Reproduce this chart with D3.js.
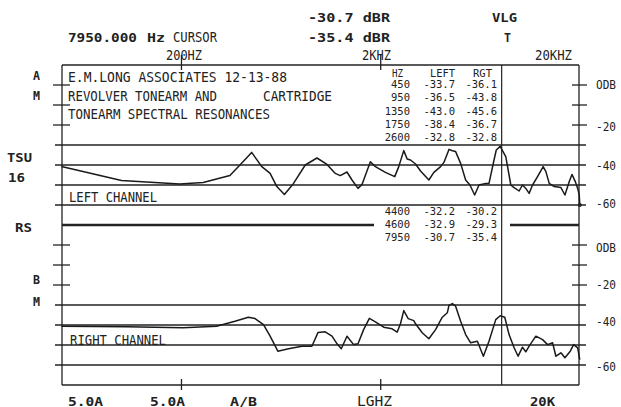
<!DOCTYPE html>
<html><head><meta charset="utf-8">
<script src="https://cdn.jsdelivr.net/npm/d3@7"></script>
<style>
html,body{margin:0;padding:0;background:#fff;}
svg{display:block;}
</style></head>
<body><svg id="c" width="621" height="407"></svg>
<script>
// ---------- data ----------
const leftFreq = [50,100,196,257,350,393,450,506,557,602,657,730,836,957,1075,1183,1253,1354,1435,1538,1611,1774,1880,2111,2352,2463,2610,2715,2821,2990,3168,3488,3695,3994,4150,4400,4574,4752,5035,5335,5607,5921,6225,6727,6988,7405,7600,7950,8482,8812,8989,9340,9896,10290,10693,11111,11559,12244,13070,13487,14011,14847,16045,16805,17666,18228,18937,19470,19830,19950];
const leftDb = [-40.8,-47.8,-49.5,-48.7,-45.3,-40,-33.7,-40.8,-44.2,-50.8,-54.7,-49.2,-40,-36.5,-39.7,-44.2,-45.3,-43.5,-47.5,-51.7,-49.7,-38.4,-40.8,-43.7,-45.8,-40.8,-32.8,-37,-37.5,-39.5,-43,-47.5,-43.7,-40.8,-38.7,-32.2,-32.9,-33.3,-39.2,-47.5,-50,-55,-50,-49.2,-49.2,-37.5,-32.5,-30.7,-35.8,-45,-50,-51.3,-53,-50,-51.7,-54.2,-50,-45.8,-40.8,-43.3,-49.2,-50.8,-51.3,-55,-48.3,-44.7,-48.3,-51.7,-55,-60];
const rightFreq = [50,106,204,300,371,433,468,516,557,609,689,804,903,968,1053,1139,1207,1268,1354,1462,1538,1641,1754,1880,2070,2281,2418,2512,2610,2747,2930,2990,3230,3488,3769,4073,4316,4400,4574,4752,5035,5335,5654,6110,6548,6988,7553,7950,8385,8812,9340,9782,10290,10693,11111,12008,12980,13750,14570,15139,16045,16805,17873,18590,19470,19950];
const rightDb = [-40.6,-40.9,-41.4,-40.6,-38.1,-36.1,-36.8,-39.8,-45.6,-53.1,-51.9,-50.6,-50.6,-43.8,-43.4,-45.6,-49.4,-51.9,-45.6,-49.8,-49.4,-42.3,-36.7,-38.4,-41.1,-41.9,-43.6,-39.4,-32.8,-36.8,-37.8,-39.4,-43.9,-46.9,-42.3,-36.1,-33.9,-30.2,-29.3,-30.6,-38.1,-44.8,-48.9,-48.1,-55.6,-48.1,-37.3,-35.4,-36.1,-44.8,-51.4,-55.6,-51.1,-53.4,-50.6,-45.6,-47.3,-49.8,-48.9,-55.6,-53.9,-56.4,-53.1,-49.8,-51.4,-57.3];

const tableHz   = ["450","950","1350","1750","2600","4400","4600","7950"];
const tableLeft = ["-33.7","-36.5","-43.0","-38.4","-32.8","-32.2","-32.9","-30.7"];
const tableRgt  = ["-36.1","-43.8","-45.6","-36.7","-32.8","-30.2","-29.3","-35.4"];

const freqTicks = [200, 2000];
const topFreqLabels = ["200HZ","2KHZ","20KHZ"];
const dbTickLabels = ["ODB","-20","-40","-60"];
const dbTickValues = [0,-20,-40,-60];
const cursorFreq = 7950;

// ---------- scales ----------
const svg = d3.select("#c");
const ink = "#222";
const x  = d3.scaleLog().domain([50,20000]).range([61.5,580]);
const yU = d3.scaleLinear().domain([0,-60]).range([85,205]);
const yL = d3.scaleLinear().domain([0,-60]).range([245,365]);
const FL = 62, FR = 579;

function txt(str, px, py, o={}) {
  const t = svg.append("text").attr("x",px).attr("y",py).text(str)
    .attr("font-family", o.ff || "'DejaVu Sans Mono', monospace")
    .attr("font-size", o.fs || 12.5)
    .attr("font-weight", o.fw || "normal")
    .attr("fill", o.fill || ink);
  if (o.w) t.attr("textLength", o.w).attr("lengthAdjust","spacingAndGlyphs");
  if (o.anchor) t.attr("text-anchor", o.anchor);
  return t;
}
function hline(y, x1, x2, w) {
  svg.append("line").attr("x1",x1).attr("x2",x2).attr("y1",y).attr("y2",y)
    .attr("stroke",ink).attr("stroke-width",w||1.3);
}
function vline(xx, y1, y2, w) {
  svg.append("line").attr("x1",xx).attr("x2",xx).attr("y1",y1).attr("y2",y2)
    .attr("stroke",ink).attr("stroke-width",w||1.3);
}

// ---------- frame & grid ----------
vline(FL, yU(10), yL(-70));
vline(FR, yU(10), yL(-70));
hline(yU(10), FL, FR);
hline(yL(-70), FL, FR);

[yU, yL].forEach(sc => {
  [0,-10,-20].forEach(d => { hline(sc(d), 53, 70); hline(sc(d), 572, 587); });
  [-30,-40,-50,-60].forEach(d => hline(sc(d), 55, 586));
});
// thick separator line (broken by the readout table)
hline(yL(10), FL, 374, 2.6);
hline(yL(10), 510, FR, 2.6);

// frequency ticks top & bottom
freqTicks.forEach(f => { vline(x(f), 55, 70); vline(x(f), 379, 390); });
// cursor
vline(x(cursorFreq)+1.5, yU(10), yL(-70), 1.2);

// ---------- traces ----------
const lineU = d3.line().x(d => x(d[0])).y(d => yU(d[1]));
const lineL = d3.line().x(d => x(d[0])).y(d => yL(d[1]));
svg.append("path").datum(d3.zip(leftFreq,leftDb)).attr("d",lineU)
  .attr("fill","none").attr("stroke","#1a1a1a").attr("stroke-width",1.5).attr("stroke-linejoin","round");
svg.append("path").datum(d3.zip(rightFreq,rightDb)).attr("d",lineL)
  .attr("fill","none").attr("stroke","#1a1a1a").attr("stroke-width",1.5).attr("stroke-linejoin","round");
svg.append("circle").attr("cx", x(leftFreq[leftFreq.length-1])).attr("cy", yU(leftDb[leftDb.length-1])).attr("r",2).attr("fill",ink);

// ---------- header text ----------
const vga = {fw:"bold", fs:13};
txt("7950.000", 68, 42, {...vga, w:69});
txt("Hz", 147, 42, {...vga, w:18});
txt("CURSOR", 173, 42, {fs:13.5, w:44});
txt("-30.7 dBR", 308, 22, {...vga, w:82});
txt("-35.4 dBR", 308, 42, {...vga, w:82});
txt("VLG", 492, 22, {...vga, w:25});
txt("T", 504, 42, {...vga, w:7});
txt(topFreqLabels[0], 166, 60, {fs:13.5, w:36});
txt(topFreqLabels[1], 362, 60, {fs:13.5, w:29});
txt(topFreqLabels[2], 535, 60, {fs:13.5, w:37});

// left side labels
txt("A", 33, 80, {...vga, w:7});
txt("M", 33, 100, {...vga, w:7});
txt("TSU", 7, 162, {...vga, w:25});
txt("16", 8, 182, {...vga, w:17});
txt("RS", 15, 232, {...vga, w:17});
txt("B", 33, 284, {...vga, w:7});
txt("M", 33, 306, {...vga, w:7});

// box text
txt("E.M.LONG ASSOCIATES  12-13-88", 68, 82, {fs:13.5, w:219});
txt("REVOLVER TONEARM AND", 68, 101, {fs:13.5, w:149});
txt("CARTRIDGE", 263, 101, {fs:13.5, w:69});
txt("TONEARM SPECTRAL RESONANCES", 68, 119, {fs:13.5, w:202});
txt("LEFT CHANNEL", 69, 202, {fs:13.5, w:88});
txt("RIGHT CHANNEL", 70, 345, {fs:13.5, w:96});

// right dB labels
const upOff = [4,6,5,3], loOff = [7,4,1,6];
dbTickLabels.forEach((s,i) => {
  txt(s, 596, yU(dbTickValues[i]) + upOff[i], {fs:12.8, w:20});
  txt(s, 596, yL(dbTickValues[i]) + loOff[i], {fs:12.8, w:20});
});

// readout table
const ts = {fs:10.5};
txt("HZ", 392, 77, {...ts, w:11});
txt("LEFT", 430, 77, {...ts, w:25});
txt("RGT", 473, 77, {...ts, w:19});
tableHz.forEach((h,i) => {
  const yy = i < 5 ? 88.3 + i*13.1 : 215 + (i-5)*13;
  txt(h, 410, yy, {...ts, anchor:"end"});
  txt(tableLeft[i], 455, yy, {...ts, anchor:"end"});
  txt(tableRgt[i], 497, yy, {...ts, anchor:"end"});
});

// bottom labels
txt("5.0A", 68, 405.5, {...vga, w:35});
txt("5.0A", 150, 405.5, {...vga, w:35});
txt("A/B", 230, 405.5, {...vga, w:27});
txt("LGHZ", 357, 405.5, {fs:13.5, w:35});
txt("20K", 530, 405.5, {...vga, w:25});
</script>
</body></html>
